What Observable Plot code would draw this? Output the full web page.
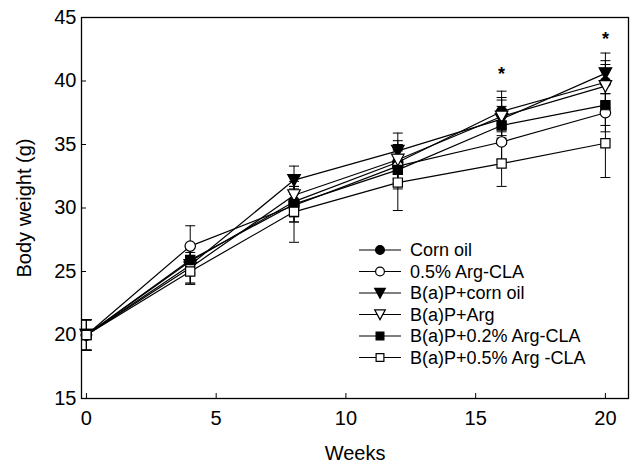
<!DOCTYPE html>
<html>
<head>
<meta charset="utf-8">
<script src="https://cdn.jsdelivr.net/npm/d3@7"></script>
<script src="https://cdn.jsdelivr.net/npm/@observablehq/plot@0.6"></script>
<style>
  html, body { margin: 0; padding: 0; background: #fff; }
  #chart { position: relative; width: 633px; height: 464px; }
</style>
</head>
<body>
<div id="chart"></div>
<script>
// ---- data ----
const weeks = [0, 4, 8, 12, 16, 20];
const seriesNames = ["Corn oil", "0.5% Arg-CLA", "B(a)P+corn oil", "B(a)P+Arg", "B(a)P+0.2% Arg-CLA", "B(a)P+0.5% Arg -CLA"];
const cornOil      = [20, 25.8, 30.5, 33.6, 37.6, 39.9];
const argCLA05     = [20, 27.0, 30.2, 33.3, 35.2, 37.5];
const bapCornOil   = [20, 25.5, 32.2, 34.5, 37.0, 40.6];
const bapArg       = [20, 25.3, 31.0, 33.8, 37.2, 39.6];
const bapArgCLA02  = [20, 25.9, 30.3, 33.0, 36.5, 38.1];
const bapArgCLA05  = [20, 25.0, 29.7, 32.0, 33.5, 35.1];
const sdCornOil     = [1.2, 1.0, 1.2, 1.4, 1.6, 1.7];
const sdArgCLA05    = [1.2, 1.6, 1.3, 1.3, 1.4, 1.5];
const sdBapCornOil  = [1.2, 1.5, 1.1, 1.4, 1.5, 1.6];
const sdBapArg      = [1.2, 1.2, 1.5, 1.5, 1.5, 1.7];
const sdBapArgCLA02 = [1.2, 1.0, 1.4, 1.5, 1.5, 1.6];
const sdBapArgCLA05 = [1.2, 1.0, 2.4, 2.2, 1.8, 2.7];
const sigWeeks = [16, 20];
const sigY = [40.5, 43.3];
const xTicks = [0, 5, 10, 15, 20];
const yTicks = [15, 20, 25, 30, 35, 40, 45];

// ---- symbols ----
const triDown = { draw(ctx, size) { const s = Math.sqrt(size); const w = s * 0.68, h = s * 0.6;
  ctx.moveTo(-w, -h); ctx.lineTo(w, -h); ctx.lineTo(0, h * 1.1); ctx.closePath(); } };
const capSym = { draw(ctx, size) { ctx.moveTo(-5, 0); ctx.lineTo(5, 0); } };
const symbols = ["circle", "circle", triDown, triDown, "square", "square"];
const fills = ["black", "white", "black", "white", "black", "white"];
const means = [cornOil, argCLA05, bapCornOil, bapArg, bapArgCLA02, bapArgCLA05];
const sds = [sdCornOil, sdArgCLA05, sdBapCornOil, sdBapArg, sdBapArgCLA02, sdBapArgCLA05];

const rows = [];
seriesNames.forEach((name, i) => weeks.forEach((w, j) => rows.push({
  series: name, idx: i, week: w, mean: means[i][j], lo: means[i][j] - sds[i][j], hi: means[i][j] + sds[i][j]
})));
const sig = sigWeeks.map((w, i) => ({week: w, y: sigY[i]}));

const font = "'Liberation Sans', Arial, sans-serif";
const marks = [
  Plot.frame({stroke: "black", strokeWidth: 1.3}),
  Plot.axisX({ticks: xTicks, tickSize: -5, tickPadding: 17, fontSize: 20, label: "Weeks", labelAnchor: "center", labelOffset: 61, labelArrow: false}),
  Plot.axisY({ticks: yTicks, tickSize: -5, tickPadding: 10, fontSize: 20, label: "Body weight (g)", labelAnchor: "center", labelOffset: 65, labelArrow: false}),
  Plot.ruleX(rows, {x: "week", y1: "lo", y2: "hi", stroke: "black", strokeWidth: 1}),
  Plot.dot(rows, {x: "week", y: "lo", symbol: () => capSym, stroke: "black", strokeWidth: 1, r: 5}),
  Plot.dot(rows, {x: "week", y: "hi", symbol: () => capSym, stroke: "black", strokeWidth: 1, r: 5})
];
seriesNames.forEach((name, i) => {
  const d = rows.filter(r => r.idx === i);
  marks.push(Plot.line(d, {x: "week", y: "mean", stroke: "black", strokeWidth: 1.2}));
});
seriesNames.forEach((name, i) => {
  const d = rows.filter(r => r.idx === i);
  marks.push(Plot.dot(d, {x: "week", y: "mean", symbol: () => symbols[i], fill: fills[i], stroke: "black", strokeWidth: 1.2, r: 5.2}));
});
marks.push(Plot.text(sig, {x: "week", y: "y", text: () => "*", fontSize: 18, fontWeight: "bold", fill: "black"}));

const chart = Plot.plot({
  width: 633, height: 464,
  marginTop: 17, marginRight: 5, marginBottom: 66, marginLeft: 81,
  style: {fontFamily: font, fontSize: "20px", color: "black", background: "white"},
  x: {domain: [-0.19, 20.89]},
  y: {domain: [15, 45]},
  marks
});
document.getElementById("chart").appendChild(chart);

// ---- legend ----
const svg = d3.select(chart);
const lg = svg.append("g").attr("font-family", font).attr("font-size", 18).attr("text-anchor", "start");
seriesNames.forEach((name, i) => {
  const y = 250 + i * 21.5;
  const g = lg.append("g").attr("transform", `translate(0,${y})`);
  g.append("line").attr("x1", 359).attr("x2", 401).attr("y1", 0).attr("y2", 0).attr("stroke", "black").attr("stroke-width", 1.2);
  const sym = typeof symbols[i] === "string" ? (symbols[i] === "circle" ? d3.symbolCircle : d3.symbolSquare) : symbols[i];
  g.append("path").attr("transform", "translate(380,0)").attr("d", d3.symbol(sym, Math.PI * 4.4 * 4.4)())
    .attr("fill", fills[i]).attr("stroke", "black").attr("stroke-width", 1.2);
  g.append("text").attr("x", 410).attr("y", 0).attr("dy", "0.35em").attr("fill", "black").attr("text-anchor", "start").text(name);
});
</script>
</body>
</html>
